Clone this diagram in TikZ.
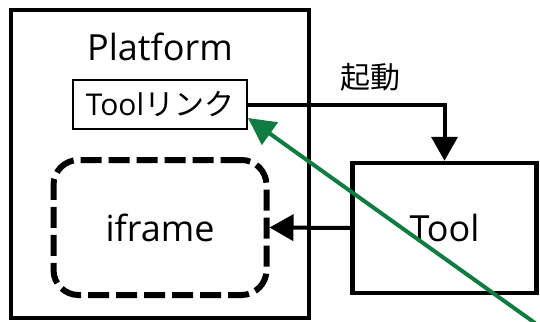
\documentclass[tikz,border=0pt]{standalone}
\usepackage{fontspec}
\setmainfont{Open Sans}
\newfontfamily\jp{Noto Sans CJK JP}
\usepackage{xcolor}
\usetikzlibrary{
    positioning,
    arrows.meta
}
\definecolor{linkgreen}{RGB}{16,124,65}

\begin{document}
\begin{tikzpicture}[x=1pt, y=-1pt]
    \useasboundingbox (0,0) rectangle (540,321);

    % Define box, text and arrow styles:
    \tikzset{
        frame/.style={draw, line width=4.5pt, inner sep=0pt},
        bigtext/.style={font=\fontsize{36}{40}\selectfont},
        smalltext/.style={font=\fontsize{30}{34}\selectfont},
        launch/.style={-{Triangle[length=24pt, width=26pt]}, line width=4pt},
        pointer/.style={-{Triangle[length=27pt, width=27pt]}, line width=4pt, linkgreen}
    };

    % Platform holding the link and the iframe
    \node[frame, minimum width=298pt, minimum height=308pt] (platform) at (160,164) {};
    \node[bigtext, anchor=base] (platform_label) at (160,60) {Platform};
    \node[draw, line width=2pt, smalltext, inner sep=0pt,
          minimum width=174pt, minimum height=49pt] (link) at (160,104.5) {Tool{\jp リンク}};
    \node[draw, line width=6pt, dash pattern=on 21pt off 7pt, rounded corners=25pt,
          bigtext, inner sep=0pt, minimum width=213pt, minimum height=135pt] (iframe) at (160,227.5) {iframe};

    % Tool started from the link
    \node[frame, bigtext, minimum width=184pt, minimum height=130pt] (tool) at (444.5,228) {Tool};
    \node[smalltext] (launch_label) at (370,77) {\jp 起動};

    % Connectors
    \draw[launch] (link.east) -| (tool.north);
    \draw[launch] (tool.west) -- (iframe.east);

    % Green pointer onto the link
    \coordinate (pointer_start) at (535,323);
    \draw[pointer] (pointer_start) -- ([yshift=-13.5pt]link.east);
\end{tikzpicture}
\end{document}
